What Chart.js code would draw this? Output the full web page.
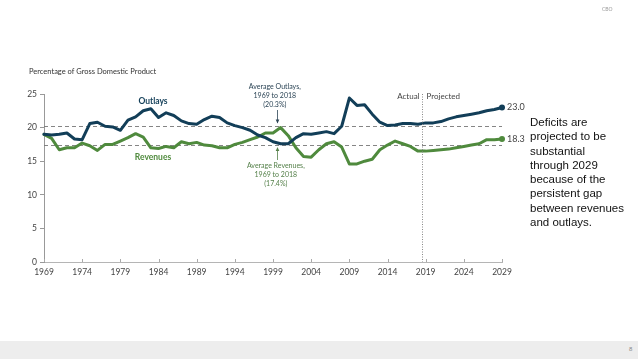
<!DOCTYPE html>
<html>
<head>
<meta charset="utf-8">
<script src="https://cdn.jsdelivr.net/npm/chart.js@4"></script>
<style>
  html, body { margin: 0; padding: 0; background: #fff; }
  body { width: 638px; height: 359px; position: relative; overflow: hidden; font-family: "Liberation Sans", Arial, sans-serif; }
  #wrap { position: absolute; left: 0; top: 0; width: 638px; height: 359px; }
  .note { position: absolute; left: 530px; top: 115px; width: 108px; font-size: 11.5px; line-height: 14.3px; color: #111; }
  .cbo { position: absolute; left: 602px; top: 6px; font-size: 5px; color: #999; font-family: Lato, sans-serif; }
  .footer { position: absolute; left: 0; top: 341px; width: 638px; height: 18px; background: #ededed; }
  .page { position: absolute; left: 629px; top: 346px; font-size: 6px; color: #888; }
</style>
</head>
<body>
<div id="wrap"><canvas id="chart" width="638" height="359"></canvas></div>
<div class="note">Deficits are<br>projected to be<br>substantial<br>through 2029<br>because of the<br>persistent gap<br>between revenues<br>and outlays.</div>
<div class="cbo">CBO</div>
<div class="footer"></div>
<div class="page">8</div>
<script>
// Years 1969 - 2029, actual through 2018, projected after.
const years = [];
for (let y = 1969; y <= 2029; y++) years.push(y);

const outlays = [
  19.0, 18.9, 19.0, 19.2, 18.3, 18.2, 20.6, 20.8, 20.2, 20.1,
  19.6, 21.1, 21.6, 22.5, 22.8, 21.5, 22.2, 21.8, 21.0, 20.6,
  20.5, 21.2, 21.7, 21.5, 20.7, 20.3, 20.0, 19.6, 18.9, 18.5,
  17.9, 17.6, 17.6, 18.5, 19.1, 19.0, 19.2, 19.4, 19.1, 20.2,
  24.4, 23.3, 23.4, 22.0, 20.8, 20.3, 20.4, 20.6, 20.6, 20.5,
  20.7, 20.7, 20.9, 21.3, 21.6, 21.8, 22.0, 22.2, 22.5, 22.7, 23.0
];
const revenues = [
  19.0, 18.4, 16.7, 17.0, 17.0, 17.7, 17.3, 16.6, 17.5, 17.5,
  18.0, 18.5, 19.1, 18.6, 17.0, 16.9, 17.2, 17.0, 17.9, 17.6,
  17.8, 17.4, 17.3, 17.0, 17.0, 17.5, 17.8, 18.2, 18.6, 19.2,
  19.2, 20.0, 18.8, 17.0, 15.7, 15.6, 16.7, 17.6, 17.9, 17.1,
  14.6, 14.6, 15.0, 15.3, 16.7, 17.4, 18.0, 17.6, 17.2, 16.5,
  16.5, 16.6, 16.7, 16.8, 17.0, 17.2, 17.4, 17.6, 18.2, 18.2, 18.3
];
const xTickLabels = [1969, 1974, 1979, 1984, 1989, 1994, 1999, 2004, 2009, 2014, 2019, 2024, 2029];
const yTickLabels = [0, 5, 10, 15, 20, 25];
const avgOutlays = 20.3;
const avgRevenues = 17.4;
const splitYear = 2018.5;

const navy = '#123e58';
const green = '#4f8a3d';
const tickFont = { family: 'Lato, sans-serif', size: 8.5 };

const extras = {
  id: 'extras',
  afterDraw(chart) {
    const ctx = chart.ctx;
    const xs = chart.scales.x, ys = chart.scales.y;
    const area = chart.chartArea;
    ctx.save();

    // Title
    ctx.font = '7.5px Lato, sans-serif';
    ctx.fillStyle = '#333';
    ctx.textBaseline = 'middle';
    ctx.textAlign = 'left';
    ctx.fillText('Percentage of Gross Domestic Product', 29, 72);

    // x tick marks (pointing up)
    ctx.strokeStyle = '#aaa';
    ctx.lineWidth = 1;
    xTickLabels.forEach(t => {
      const px = Math.round(xs.getPixelForValue(t)) + 0.5;
      ctx.beginPath();
      ctx.moveTo(px, area.bottom);
      ctx.lineTo(px, area.bottom - 3);
      ctx.stroke();
    });

    // Actual / projected divider
    const dx = Math.round(xs.getPixelForValue(splitYear)) + 0.5;
    ctx.setLineDash([1, 1.5]);
    ctx.strokeStyle = '#888';
    ctx.beginPath();
    ctx.moveTo(dx, area.top);
    ctx.lineTo(dx, area.bottom);
    ctx.stroke();
    ctx.setLineDash([]);

    ctx.font = '8px Lato, sans-serif';
    ctx.fillStyle = '#444';
    ctx.textAlign = 'right';
    ctx.fillText('Actual', dx - 3, 96);
    ctx.textAlign = 'left';
    ctx.fillText('Projected', dx + 4, 96);

    // Series labels
    ctx.textAlign = 'center';
    ctx.font = 'bold 8.5px Lato, sans-serif';
    ctx.fillStyle = navy;
    ctx.fillText('Outlays', 153, 101.5);
    ctx.fillStyle = green;
    ctx.fillText('Revenues', 153, 157);

    // Average annotations
    const ax = xs.getPixelForValue(1999.5);
    ctx.font = '7px Lato, sans-serif';
    ctx.fillStyle = '#2c4556';
    ['Average Outlays,', '1969 to 2018', '(20.3%)'].forEach((s, i) => ctx.fillText(s, ax - 2, 86.5 + i * 9));
    ctx.fillStyle = '#55804a';
    ['Average Revenues,', '1969 to 2018', '(17.4%)'].forEach((s, i) => ctx.fillText(s, ax - 1, 165.5 + i * 9));

    // arrows
    const arrow = (x, y1, y2, col) => {
      ctx.strokeStyle = col; ctx.fillStyle = col; ctx.lineWidth = 0.8;
      ctx.beginPath(); ctx.moveTo(x, y1); ctx.lineTo(x, y2); ctx.stroke();
      const d = y2 > y1 ? 1 : -1;
      ctx.beginPath();
      ctx.moveTo(x, y2 + d);
      ctx.lineTo(x - 1.8, y2 - d * 3);
      ctx.lineTo(x + 1.8, y2 - d * 3);
      ctx.closePath(); ctx.fill();
    };
    const aX = Math.round(ax) + 0.5;
    arrow(aX, 110, ys.getPixelForValue(avgOutlays) - 3, '#2c4556');
    arrow(aX, 160, ys.getPixelForValue(avgRevenues) + 3, '#55804a');

    // End values
    ctx.textAlign = 'left';
    ctx.font = '9px Lato, sans-serif';
    ctx.fillStyle = '#444';
    const ex = xs.getPixelForValue(2029) + 5;
    ctx.fillText(outlays[outlays.length - 1].toFixed(1), ex, ys.getPixelForValue(outlays[outlays.length - 1]));
    ctx.fillText(revenues[revenues.length - 1].toFixed(1), ex, ys.getPixelForValue(revenues[revenues.length - 1]));
    ctx.restore();
  },
  // average lines go under the data lines
  beforeDatasetsDraw(chart) {
    const ctx = chart.ctx;
    const xs = chart.scales.x, ys = chart.scales.y;
    ctx.save();
    ctx.strokeStyle = '#777';
    ctx.lineWidth = 0.9;
    ctx.setLineDash([4, 3]);
    [avgOutlays, avgRevenues].forEach(v => {
      const py = Math.round(ys.getPixelForValue(v)) + 0.5;
      ctx.beginPath();
      ctx.moveTo(chart.chartArea.left, py);
      ctx.lineTo(xs.getPixelForValue(2029), py);
      ctx.stroke();
    });
    ctx.restore();
  }
};

const lastOnly = (n) => (c) => (c.dataIndex === n - 1 ? 3 : 0);

new Chart(document.getElementById('chart'), {
  type: 'line',
  data: {
    datasets: [
      {
        label: 'Outlays',
        data: years.map((y, i) => ({ x: y, y: outlays[i] })),
        borderColor: navy,
        backgroundColor: navy,
        borderWidth: 3,
        borderJoinStyle: 'round',
        borderCapStyle: 'round',
        tension: 0,
        clip: false,
        pointRadius: lastOnly(years.length),
        pointBorderWidth: 0
      },
      {
        label: 'Revenues',
        data: years.map((y, i) => ({ x: y, y: revenues[i] })),
        borderColor: green,
        backgroundColor: green,
        borderWidth: 3,
        borderJoinStyle: 'round',
        borderCapStyle: 'round',
        tension: 0,
        clip: false,
        pointRadius: lastOnly(years.length),
        pointBorderWidth: 0
      }
    ]
  },
  options: {
    responsive: false,
    animation: false,
    layout: { padding: { left: 0, top: 94, right: 136, bottom: 0 } },
    plugins: { legend: { display: false }, tooltip: { enabled: false } },
    scales: {
      x: {
        type: 'linear',
        min: 1969,
        max: 2029,
        afterFit: s => { s.height = 97; },
        afterBuildTicks: s => { s.ticks = xTickLabels.map(v => ({ value: v })); },
        ticks: { color: '#444', font: tickFont, padding: 5, maxRotation: 0, autoSkip: false, callback: v => String(v) },
        grid: { display: false, drawTicks: false },
        border: { color: '#b5b5b5', width: 1 }
      },
      y: {
        min: 0,
        max: 25,
        afterFit: s => { s.width = 44; },
        afterBuildTicks: s => { s.ticks = yTickLabels.map(v => ({ value: v })); },
        ticks: { color: '#444', font: tickFont, padding: 3 },
        grid: { drawOnChartArea: false, tickLength: 4, color: '#999' },
        border: { color: '#999', width: 1 }
      }
    }
  },
  plugins: [extras]
});
</script>
</body>
</html>
